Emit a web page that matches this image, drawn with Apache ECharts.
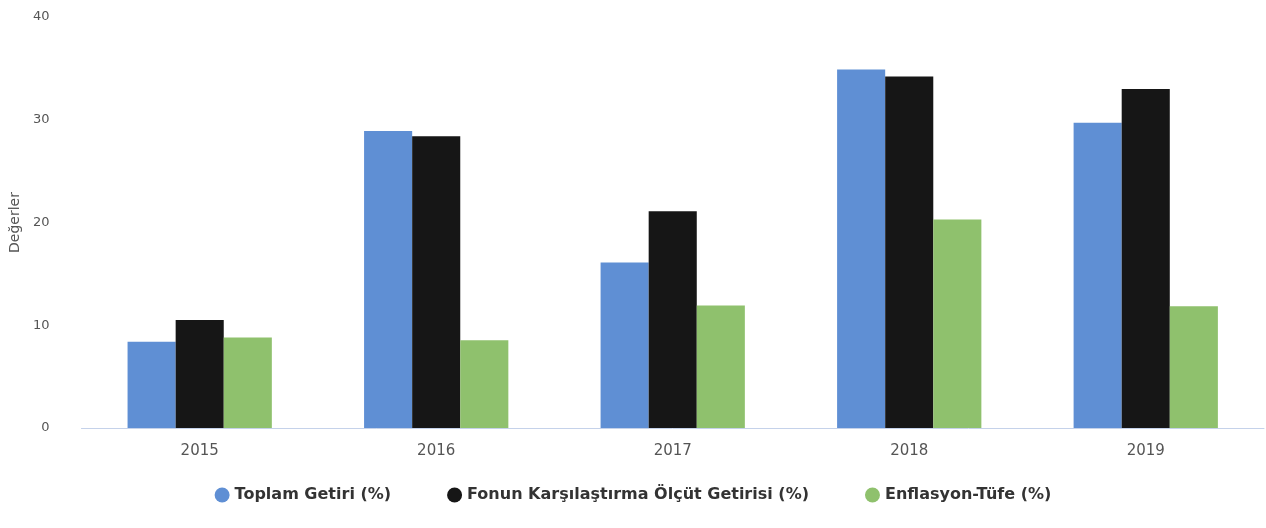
<!DOCTYPE html>
<html>
<head>
<meta charset="utf-8">
<script src="https://cdn.jsdelivr.net/npm/echarts@6/dist/echarts.min.js"></script>
<style>html,body{margin:0;padding:0;background:#fff}#c{width:1266px;height:528px}</style>
</head>
<body>
<div id="c"></div>
<script>
const categories = ['2015', '2016', '2017', '2018', '2019'];
const seriesNames = ['Toplam Getiri (%)', 'Fonun Karşılaştırma Ölçüt Getirisi (%)', 'Enflasyon-Tüfe (%)'];
const toplamGetiri = [8.4, 28.9, 16.1, 34.9, 29.7];
const olcutGetirisi = [10.5, 28.4, 21.1, 34.2, 33.0];
const enflasyon = [8.81, 8.53, 11.92, 20.30, 11.84];
const yTicks = [0, 10, 20, 30, 40];
const colors = ['#5f8fd4', '#161616', '#8fc16d'];

const chart = echarts.init(document.getElementById('c'));
const values = [toplamGetiri, olcutGetirisi, enflasyon];
chart.setOption({
  animation: false,
  color: colors,
  textStyle: { fontFamily: 'DejaVu Sans' },
  grid: { left: 81, right: 2, top: 17, bottom: 100 },
  legend: {
    bottom: 20,
    left: 'center',
    icon: 'circle',
    itemWidth: 15,
    itemHeight: 15,
    itemGap: 56,
    itemTextGap: 14,
    textStyle: { fontSize: 16, fontWeight: 'bold', color: '#333', fontFamily: 'DejaVu Sans' },
    data: seriesNames
  },
  xAxis: {
    type: 'category',
    data: categories,
    axisLine: { lineStyle: { color: '#c5d2ea' } },
    axisTick: { show: false },
    axisLabel: { color: '#555', fontSize: 15, margin: 16 }
  },
  yAxis: {
    type: 'value',
    min: yTicks[0],
    max: yTicks[yTicks.length - 1],
    interval: 10,
    name: 'Değerler',
    nameLocation: 'middle',
    nameGap: 54,
    nameTextStyle: { color: '#555', fontSize: 14 },
    axisLine: { show: false },
    axisTick: { show: false },
    splitLine: { show: false },
    axisLabel: { color: '#555', fontSize: 13, margin: 32 }
  },
  series: seriesNames.map((n, i) => ({
    name: n,
    type: 'bar',
    data: values[i],
    barGap: '0%',
    barCategoryGap: '39%'
  }))
});
</script>
</body>
</html>
